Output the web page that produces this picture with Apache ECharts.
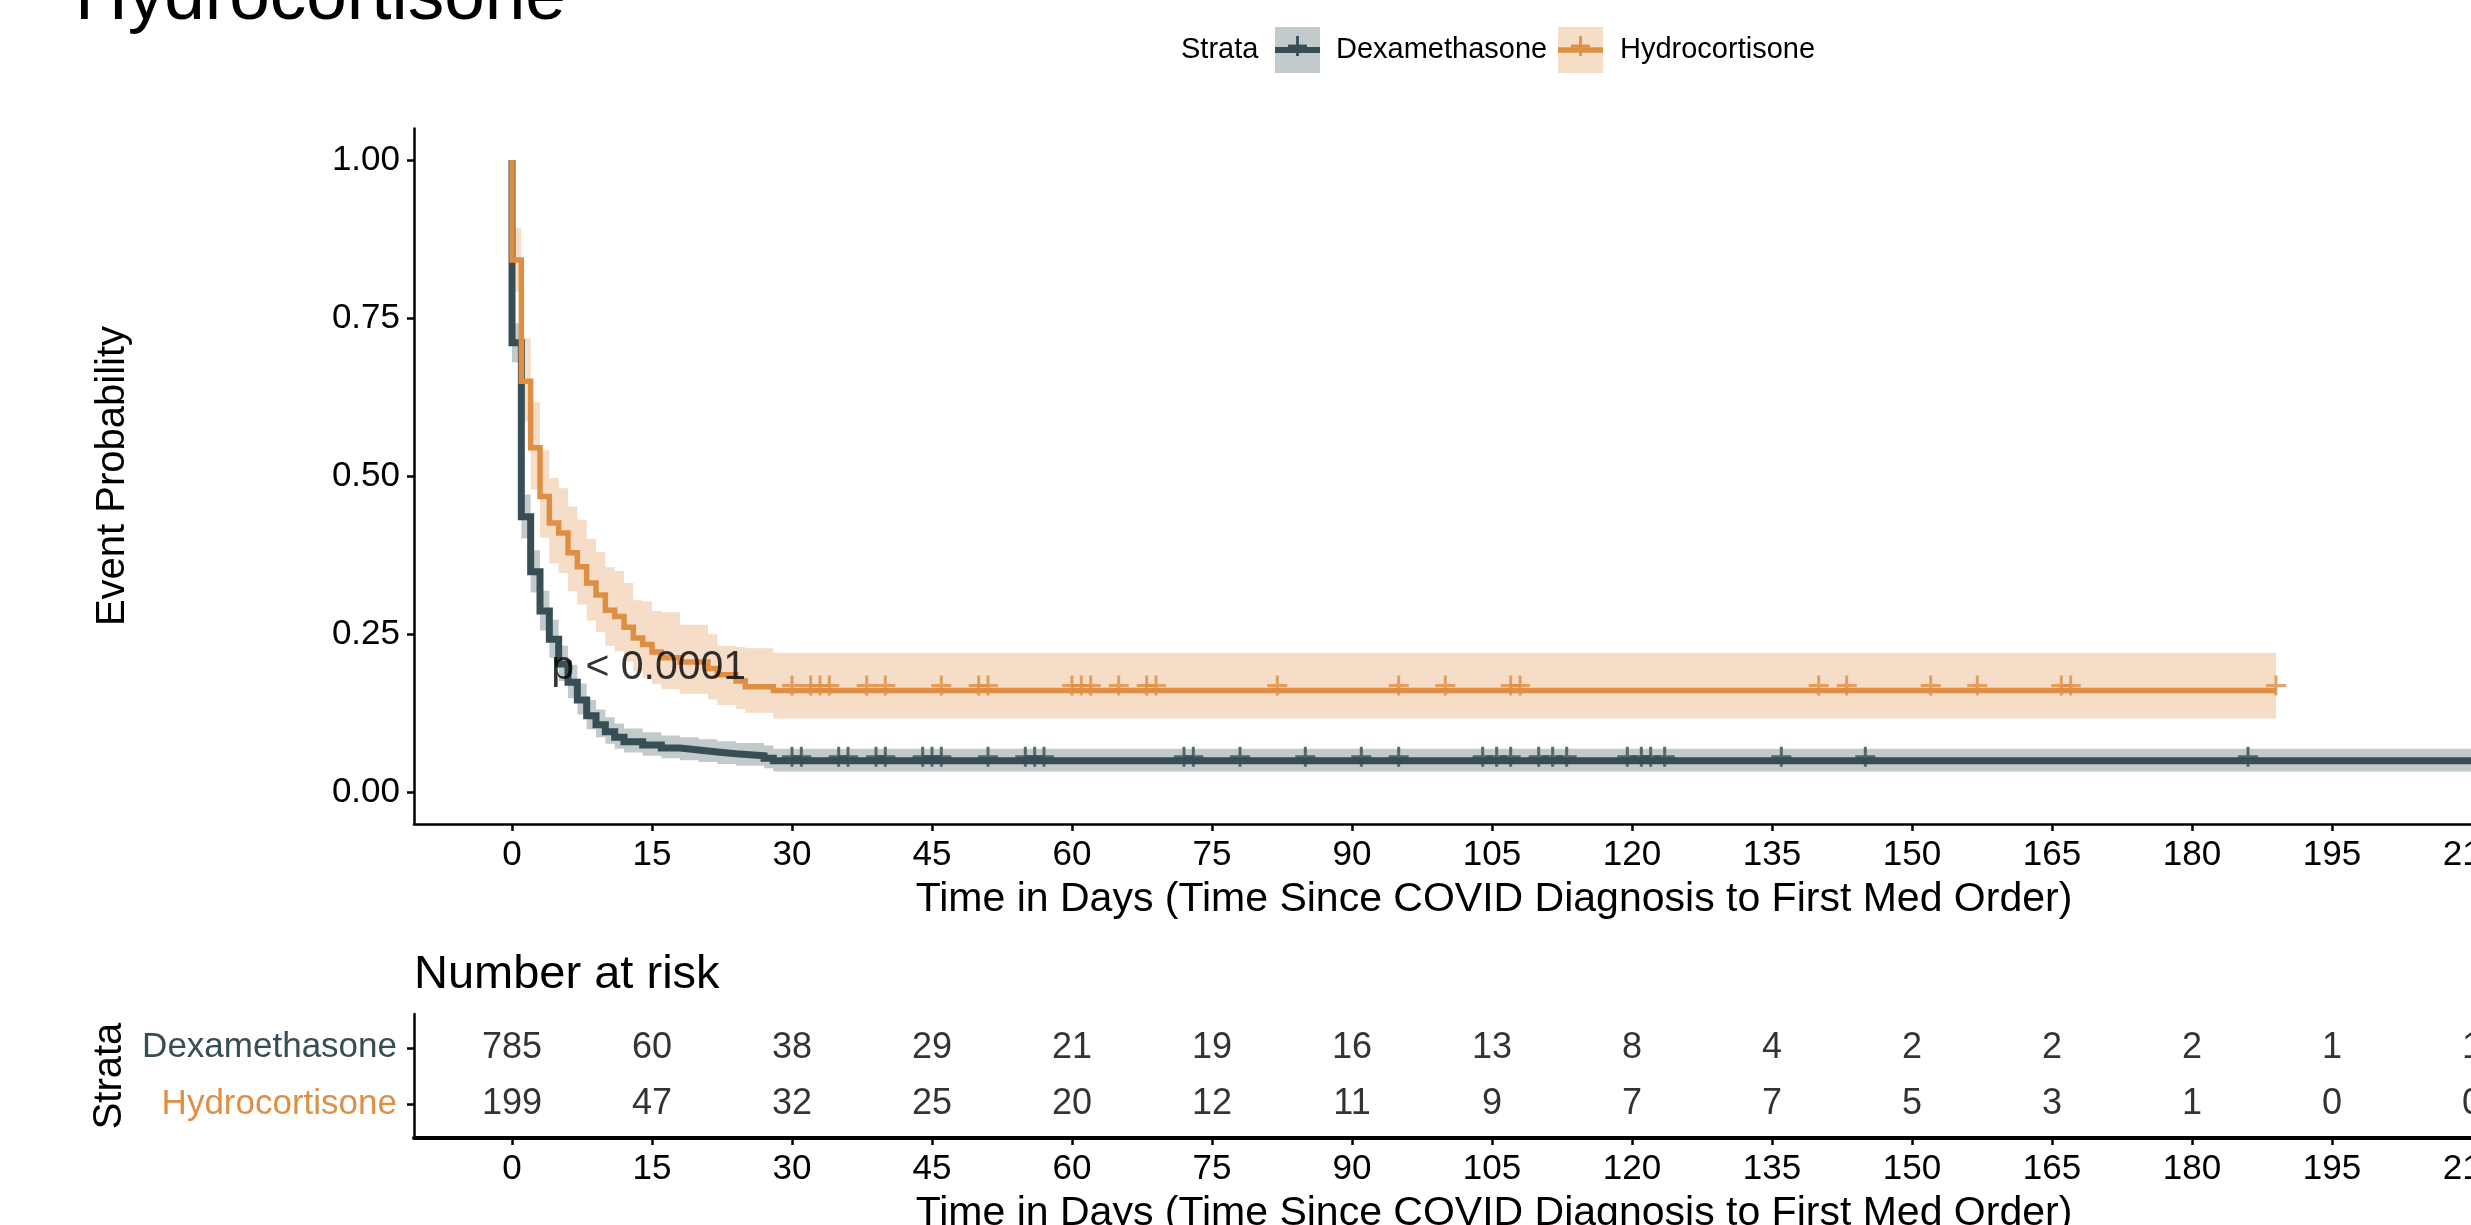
<!DOCTYPE html>
<html><head><meta charset="utf-8">
<script src="https://cdn.jsdelivr.net/npm/echarts@6/dist/echarts.min.js"></script>
<style>html,body{margin:0;padding:0;background:#fff;overflow:hidden;width:2471px;height:1225px}#c{width:2700px;height:1225px}</style>
</head><body><div id="c"></div>
<script>
// ---------- data ----------
const hydroTimes = [0, 0, 1, 2, 3, 4, 5, 6, 7, 8, 9, 10, 11, 12, 13, 14, 15, 16, 18, 21, 22, 24, 25, 28];
const hydroSurv  = [1.0, 0.842, 0.650, 0.545, 0.468, 0.426, 0.410, 0.379, 0.357, 0.331, 0.312, 0.288, 0.278, 0.261, 0.244, 0.234, 0.222, 0.213, 0.206, 0.196, 0.186, 0.176, 0.167, 0.161];
const hydroLower = [1.0, 0.792, 0.586, 0.479, 0.403, 0.362, 0.347, 0.318, 0.297, 0.272, 0.254, 0.232, 0.223, 0.207, 0.191, 0.181, 0.171, 0.163, 0.156, 0.147, 0.138, 0.132, 0.126, 0.117];
const hydroUpper = [1.0, 0.892, 0.718, 0.617, 0.541, 0.497, 0.481, 0.452, 0.431, 0.401, 0.380, 0.356, 0.350, 0.331, 0.304, 0.302, 0.287, 0.285, 0.265, 0.250, 0.232, 0.230, 0.228, 0.221];
const hydroEnd = 189;
const hydroCensor = [30, 32, 33, 34, 38, 40, 46, 50, 51, 60, 61, 62, 65, 68, 69, 82, 95, 100, 107, 108, 140, 143, 152, 157, 166, 167, 189];

const dexTimes = [0, 0, 1, 2, 3, 4, 5, 6, 7, 8, 9, 10, 11, 12, 14, 16, 18, 20, 22, 24, 27, 28];
const dexSurv  = [1.0, 0.711, 0.436, 0.349, 0.287, 0.242, 0.203, 0.174, 0.146, 0.121, 0.107, 0.096, 0.087, 0.080, 0.075, 0.070, 0.067, 0.064, 0.061, 0.058, 0.054, 0.050];
const dexLower = [1.0, 0.680, 0.402, 0.316, 0.256, 0.213, 0.176, 0.149, 0.123, 0.100, 0.087, 0.077, 0.069, 0.063, 0.058, 0.054, 0.051, 0.048, 0.045, 0.042, 0.038, 0.033];
const dexUpper = [1.0, 0.742, 0.471, 0.383, 0.319, 0.273, 0.232, 0.202, 0.172, 0.146, 0.131, 0.119, 0.109, 0.101, 0.095, 0.090, 0.087, 0.084, 0.081, 0.078, 0.074, 0.069];
const dexEnd = 212;
const dexCensor = [30, 31, 35, 36, 39, 40, 44, 45, 46, 51, 55, 56, 57, 72, 73, 78, 85, 91, 95, 104, 105.5, 107, 110, 111.5, 113, 119.5, 121, 122, 123.5, 136, 145, 186];

const riskTimes = [0, 15, 30, 45, 60, 75, 90, 105, 120, 135, 150, 165, 180, 195, 210];
const riskDex   = [785, 60, 38, 29, 21, 19, 16, 13, 8, 4, 2, 2, 2, 1, 1];
const riskHydro = [199, 47, 32, 25, 20, 12, 11, 9, 7, 7, 5, 3, 1, 0, 0];

const xTicks = [0, 15, 30, 45, 60, 75, 90, 105, 120, 135, 150, 165, 180, 195, 210];
const yTicks = [0, 0.25, 0.5, 0.75, 1];
const pValueText = 'p < 0.0001';
const pValuePos = [4.2, 0.2];

// ---------- styling ----------
const FONT = '"Liberation Sans", Arial, Helvetica, sans-serif';
const DEX = '#374E55', HYD = '#DF8F44';
const DEX_FILL = 'rgba(55,78,85,0.3)', HYD_FILL = 'rgba(223,143,68,0.3)';
const PLUS = 'path://M-1.5,-10 L1.5,-10 L1.5,-1.5 L10,-1.5 L10,1.5 L1.5,1.5 L1.5,10 L-1.5,10 L-1.5,1.5 L-10,1.5 L-10,-1.5 L-1.5,-1.5 Z';

function lineData(times, surv, end) {
  const d = times.map((t, i) => [t, surv[i]]);
  d.push([end, surv[surv.length - 1]]);
  return d;
}
function stepAt(times, surv, t) {
  let v = surv[0];
  for (let i = 0; i < times.length; i++) if (times[i] <= t) v = surv[i];
  return v;
}
function bandSeries(times, lo, hi, end, fill) {
  return {
    type: 'custom', xAxisIndex: 0, yAxisIndex: 0, z: 1, silent: true,
    data: times.map((t, i) => [t, lo[i], hi[i]]),
    renderItem: function (params, api) {
      if (params.dataIndex !== 0) return null;
      const up = [], dn = [];
      for (let i = 0; i < times.length; i++) {
        const x1 = i < times.length - 1 ? times[i + 1] : end;
        up.push(api.coord([times[i], hi[i]]), api.coord([x1, hi[i]]));
        dn.push(api.coord([times[i], lo[i]]), api.coord([x1, lo[i]]));
      }
      return { type: 'polygon', shape: { points: up.concat(dn.reverse()) }, style: { fill: fill } };
    }
  };
}

const axisCommon = (w) => ({
  axisLine: { show: true, onZero: false, lineStyle: { color: '#000', width: w } },
  splitLine: { show: false }
});
const tick = { show: true, length: 7, lineStyle: { color: '#000', width: 2.5 } };

const chart = echarts.init(document.getElementById('c'), null, { renderer: 'canvas' });
const option = {
  animation: false,
  backgroundColor: '#fff',
  textStyle: { fontFamily: FONT },
  grid: [
    { left: 414, top: 128.4, width: 2156, height: 695.6 },
    { left: 414, top: 1014, width: 2156, height: 124 }
  ],
  xAxis: [
    Object.assign({ type: 'value', gridIndex: 0, min: -10.5, max: 220.5,
      axisTick: Object.assign({ customValues: xTicks }, tick),
      axisLabel: { customValues: xTicks, fontSize: 35, color: '#000', margin: 14, lineHeight: 35, fontFamily: FONT } }, axisCommon(2.5)),
    Object.assign({ type: 'value', gridIndex: 1, min: -10.5, max: 220.5,
      axisTick: Object.assign({ customValues: xTicks }, tick),
      axisLabel: { customValues: xTicks, fontSize: 35, color: '#000', margin: 14, lineHeight: 35, fontFamily: FONT } }, axisCommon(4))
  ],
  yAxis: [
    Object.assign({ type: 'value', gridIndex: 0, min: -0.05, max: 1.05,
      axisTick: Object.assign({ customValues: yTicks }, tick),
      axisLabel: { customValues: yTicks, fontSize: 35, color: '#000', margin: 14, fontFamily: FONT,
        formatter: v => Number(v).toFixed(2) } }, axisCommon(2.5)),
    Object.assign({ type: 'value', gridIndex: 1, min: 0.4, max: 2.6,
      axisTick: Object.assign({ customValues: [1, 2] }, tick),
      axisLabel: { customValues: [1, 2], margin: 17, fontFamily: FONT,
        formatter: v => (Math.round(v) === 2 ? '{d|Dexamethasone}' : '{h|Hydrocortisone}'),
        rich: { d: { color: DEX, fontSize: 35, fontFamily: FONT }, h: { color: HYD, fontSize: 35, fontFamily: FONT } } } }, axisCommon(2.5))
  ],
  series: [
    bandSeries(dexTimes, dexLower, dexUpper, dexEnd, DEX_FILL),
    bandSeries(hydroTimes, hydroLower, hydroUpper, hydroEnd, HYD_FILL),
    { name: 'Dexamethasone', type: 'line', step: 'end', xAxisIndex: 0, yAxisIndex: 0, z: 3,
      data: lineData(dexTimes, dexSurv, dexEnd), showSymbol: false, symbol: 'none',
      lineStyle: { color: DEX, width: 7, cap: 'butt', join: 'miter' } },
    { name: 'Hydrocortisone', type: 'line', step: 'end', xAxisIndex: 0, yAxisIndex: 0, z: 4,
      data: lineData(hydroTimes, hydroSurv, hydroEnd), showSymbol: false, symbol: 'none',
      lineStyle: { color: HYD, width: 5.5, cap: 'butt', join: 'miter' } },
    { type: 'scatter', xAxisIndex: 0, yAxisIndex: 0, z: 5, symbol: PLUS, symbolSize: 20, symbolOffset: [0, -4],
      itemStyle: { color: DEX }, data: dexCensor.map(t => [t, stepAt(dexTimes, dexSurv, t)]) },
    { type: 'scatter', xAxisIndex: 0, yAxisIndex: 0, z: 5, symbol: PLUS, symbolSize: 20, symbolOffset: [0, -5],
      itemStyle: { color: HYD }, data: hydroCensor.map(t => [t, stepAt(hydroTimes, hydroSurv, t)]) },
    { type: 'scatter', xAxisIndex: 0, yAxisIndex: 0, z: 10, symbolSize: 0, silent: true,
      data: [pValuePos],
      label: { show: true, position: 'right', distance: 0, offset: [0, 2], formatter: pValueText, fontSize: 41, color: '#000', fontFamily: FONT } },
    { type: 'scatter', xAxisIndex: 1, yAxisIndex: 1, symbolSize: 0, silent: true,
      data: riskTimes.map((t, i) => [t, 2, riskDex[i]]),
      label: { show: true, position: 'inside', formatter: p => String(p.value[2]), fontSize: 36, color: '#000', fontFamily: FONT } },
    { type: 'scatter', xAxisIndex: 1, yAxisIndex: 1, symbolSize: 0, silent: true,
      data: riskTimes.map((t, i) => [t, 1, riskHydro[i]]),
      label: { show: true, position: 'inside', formatter: p => String(p.value[2]), fontSize: 36, color: '#000', fontFamily: FONT } }
  ],
  graphic: [
    { type: 'text', x: 75, y: -1, style: { text: 'Hydrocortisone', font: '73px ' + FONT, fill: '#000', verticalAlign: 'middle', align: 'left' } },
    // legend
    { type: 'text', x: 1181, y: 50, style: { text: 'Strata', font: '29px ' + FONT, fill: '#000', verticalAlign: 'middle' } },
    { type: 'rect', shape: { x: 1275, y: 27, width: 45, height: 46 }, style: { fill: DEX_FILL } },
    { type: 'line', shape: { x1: 1275, y1: 50, x2: 1320, y2: 50 }, style: { stroke: DEX, lineWidth: 6 } },
    { type: 'line', shape: { x1: 1297.5, y1: 36, x2: 1297.5, y2: 56 }, style: { stroke: DEX, lineWidth: 2.8 } },
    { type: 'line', shape: { x1: 1288, y1: 46, x2: 1307, y2: 46 }, style: { stroke: DEX, lineWidth: 2.8 } },
    { type: 'text', x: 1336, y: 50, style: { text: 'Dexamethasone', font: '29px ' + FONT, fill: '#000', verticalAlign: 'middle' } },
    { type: 'rect', shape: { x: 1558, y: 27, width: 45, height: 46 }, style: { fill: HYD_FILL } },
    { type: 'line', shape: { x1: 1558, y1: 50, x2: 1603, y2: 50 }, style: { stroke: HYD, lineWidth: 5.5 } },
    { type: 'line', shape: { x1: 1580.5, y1: 36, x2: 1580.5, y2: 56 }, style: { stroke: HYD, lineWidth: 2.8 } },
    { type: 'line', shape: { x1: 1571, y1: 46, x2: 1590, y2: 46 }, style: { stroke: HYD, lineWidth: 2.8 } },
    { type: 'text', x: 1620, y: 50, style: { text: 'Hydrocortisone', font: '29px ' + FONT, fill: '#000', verticalAlign: 'middle' } },
    // axis titles
    { type: 'text', x: 113, y: 476, rotation: Math.PI / 2, style: { text: 'Event Probability', font: '40px ' + FONT, fill: '#000', align: 'center', verticalAlign: 'middle' } },
    { type: 'text', x: 1494, y: 900, style: { text: 'Time in Days (Time Since COVID Diagnosis to First Med Order)', font: '41px ' + FONT, fill: '#000', align: 'center', verticalAlign: 'middle' } },
    { type: 'text', x: 414, y: 975, style: { text: 'Number at risk', font: '47px ' + FONT, fill: '#000', verticalAlign: 'middle' } },
    { type: 'text', x: 110, y: 1076, rotation: Math.PI / 2, style: { text: 'Strata', font: '40px ' + FONT, fill: '#000', align: 'center', verticalAlign: 'middle' } },
    { type: 'text', x: 1494, y: 1214, style: { text: 'Time in Days (Time Since COVID Diagnosis to First Med Order)', font: '41px ' + FONT, fill: '#000', align: 'center', verticalAlign: 'middle' } }
  ]
};
chart.setOption(option);
</script></body></html>
